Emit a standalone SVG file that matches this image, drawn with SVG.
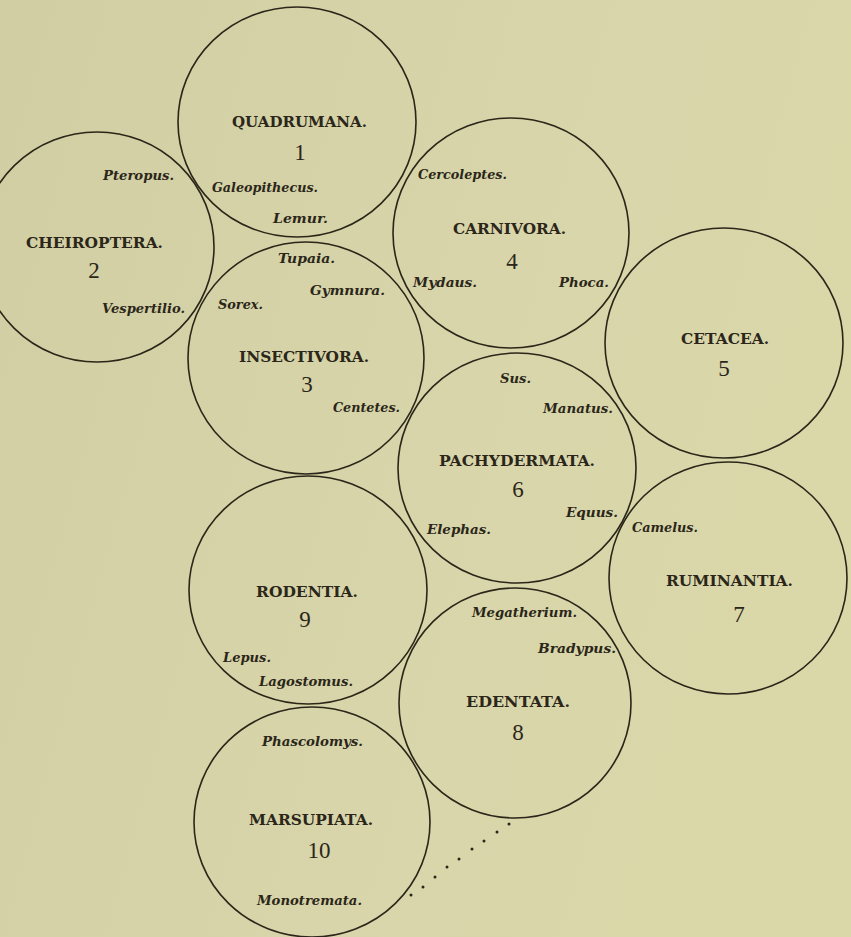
<svg xmlns="http://www.w3.org/2000/svg" width="851" height="937" viewBox="0 0 851 937">
<defs>
<style>
.c{fill:none;stroke:#2b2619;stroke-width:1.6}
.t{font-family:"DejaVu Serif","Liberation Serif",serif;font-weight:bold;font-size:14.5px;fill:#2b2619}
.n{font-family:"Liberation Serif","Times New Roman",serif;font-size:23px;fill:#2b2619;text-anchor:middle}
.g{font-family:"DejaVu Serif","Liberation Serif",serif;font-style:italic;font-weight:bold;font-size:13.5px;fill:#2b2619}
.d{fill:#2b2619}
</style>
<linearGradient id="bg" x1="0" y1="0" x2="1" y2="0.3">
<stop offset="0" stop-color="#d0cea2"/>
<stop offset="0.7" stop-color="#d8d6aa"/>
<stop offset="1" stop-color="#dad7a9"/>
</linearGradient>
</defs>
<rect x="0" y="0" width="851" height="937" fill="url(#bg)"/>

<g id="n1">
<ellipse class="c" cx="297" cy="122" rx="119" ry="115"/>
<text class="t" x="232" y="127" textLength="135" lengthAdjust="spacingAndGlyphs">QUADRUMANA.</text>
<text class="n" x="300" y="160">1</text>
<text class="g" x="212" y="192" textLength="106" lengthAdjust="spacingAndGlyphs">Galeopithecus.</text>
<text class="g" x="273" y="223" textLength="55" lengthAdjust="spacingAndGlyphs">Lemur.</text>
</g>

<g id="n2">
<ellipse class="c" cx="97" cy="247" rx="117" ry="115"/>
<text class="t" x="26" y="248" textLength="137" lengthAdjust="spacingAndGlyphs">CHEIROPTERA.</text>
<text class="n" x="94" y="278">2</text>
<text class="g" x="103" y="180" textLength="71" lengthAdjust="spacingAndGlyphs">Pteropus.</text>
<text class="g" x="102" y="313" textLength="83" lengthAdjust="spacingAndGlyphs">Vespertilio.</text>
</g>

<g id="n3">
<ellipse class="c" cx="306" cy="358" rx="118" ry="116"/>
<text class="t" x="239" y="362" textLength="130" lengthAdjust="spacingAndGlyphs">INSECTIVORA.</text>
<text class="n" x="307" y="392">3</text>
<text class="g" x="278" y="263" textLength="57" lengthAdjust="spacingAndGlyphs">Tupaia.</text>
<text class="g" x="310" y="295" textLength="75" lengthAdjust="spacingAndGlyphs">Gymnura.</text>
<text class="g" x="218" y="309" textLength="45" lengthAdjust="spacingAndGlyphs">Sorex.</text>
<text class="g" x="333" y="412" textLength="67" lengthAdjust="spacingAndGlyphs">Centetes.</text>
</g>

<g id="n4">
<ellipse class="c" cx="511" cy="233" rx="118" ry="115"/>
<text class="t" x="453" y="234" textLength="113" lengthAdjust="spacingAndGlyphs">CARNIVORA.</text>
<text class="n" x="512" y="269">4</text>
<text class="g" x="418" y="179" textLength="89" lengthAdjust="spacingAndGlyphs">Cercoleptes.</text>
<text class="g" x="413" y="287" textLength="64" lengthAdjust="spacingAndGlyphs">Mydaus.</text>
<text class="g" x="559" y="287" textLength="50" lengthAdjust="spacingAndGlyphs">Phoca.</text>
</g>

<g id="n5">
<ellipse class="c" cx="724" cy="343" rx="119" ry="115"/>
<text class="t" x="681" y="344" textLength="88" lengthAdjust="spacingAndGlyphs">CETACEA.</text>
<text class="n" x="724" y="376">5</text>
</g>

<g id="n6">
<ellipse class="c" cx="517" cy="468" rx="119" ry="115"/>
<text class="t" x="439" y="466" textLength="156" lengthAdjust="spacingAndGlyphs">PACHYDERMATA.</text>
<text class="n" x="518" y="497">6</text>
<text class="g" x="500" y="383" textLength="31" lengthAdjust="spacingAndGlyphs">Sus.</text>
<text class="g" x="543" y="413" textLength="70" lengthAdjust="spacingAndGlyphs">Manatus.</text>
<text class="g" x="566" y="517" textLength="52" lengthAdjust="spacingAndGlyphs">Equus.</text>
<text class="g" x="427" y="534" textLength="64" lengthAdjust="spacingAndGlyphs">Elephas.</text>
</g>

<g id="n7">
<ellipse class="c" cx="728" cy="578" rx="119" ry="116"/>
<text class="t" x="666" y="586" textLength="127" lengthAdjust="spacingAndGlyphs">RUMINANTIA.</text>
<text class="n" x="739" y="622">7</text>
<text class="g" x="632" y="532" textLength="66" lengthAdjust="spacingAndGlyphs">Camelus.</text>
</g>

<g id="n8">
<ellipse class="c" cx="515" cy="703" rx="116" ry="115"/>
<text class="t" x="466" y="707" textLength="104" lengthAdjust="spacingAndGlyphs">EDENTATA.</text>
<text class="n" x="518" y="740">8</text>
<text class="g" x="472" y="617" textLength="105" lengthAdjust="spacingAndGlyphs">Megatherium.</text>
<text class="g" x="538" y="653" textLength="78" lengthAdjust="spacingAndGlyphs">Bradypus.</text>
</g>

<g id="n9">
<ellipse class="c" cx="308" cy="590" rx="119" ry="114"/>
<text class="t" x="256" y="597" textLength="102" lengthAdjust="spacingAndGlyphs">RODENTIA.</text>
<text class="n" x="305" y="627">9</text>
<text class="g" x="223" y="662" textLength="48" lengthAdjust="spacingAndGlyphs">Lepus.</text>
<text class="g" x="259" y="686" textLength="94" lengthAdjust="spacingAndGlyphs">Lagostomus.</text>
</g>

<g id="n10">
<ellipse class="c" cx="312" cy="822" rx="118" ry="115"/>
<text class="t" x="249" y="825" textLength="124" lengthAdjust="spacingAndGlyphs">MARSUPIATA.</text>
<text class="n" x="319" y="858">10</text>
<text class="g" x="262" y="746" textLength="101" lengthAdjust="spacingAndGlyphs">Phascolomys.</text>
<text class="g" x="257" y="905" textLength="105" lengthAdjust="spacingAndGlyphs">Monotremata.</text>
</g>

<g id="connectors">
<circle class="d" cx="509" cy="824" r="1.5"/>
<circle class="d" cx="497" cy="832" r="1.5"/>
<circle class="d" cx="484" cy="841" r="1.5"/>
<circle class="d" cx="472" cy="849" r="1.5"/>
<circle class="d" cx="459" cy="859" r="1.5"/>
<circle class="d" cx="447" cy="867" r="1.5"/>
<circle class="d" cx="435" cy="877" r="1.5"/>
<circle class="d" cx="423" cy="887" r="1.5"/>
<circle class="d" cx="411" cy="895" r="1.5"/>
</g>
</svg>
